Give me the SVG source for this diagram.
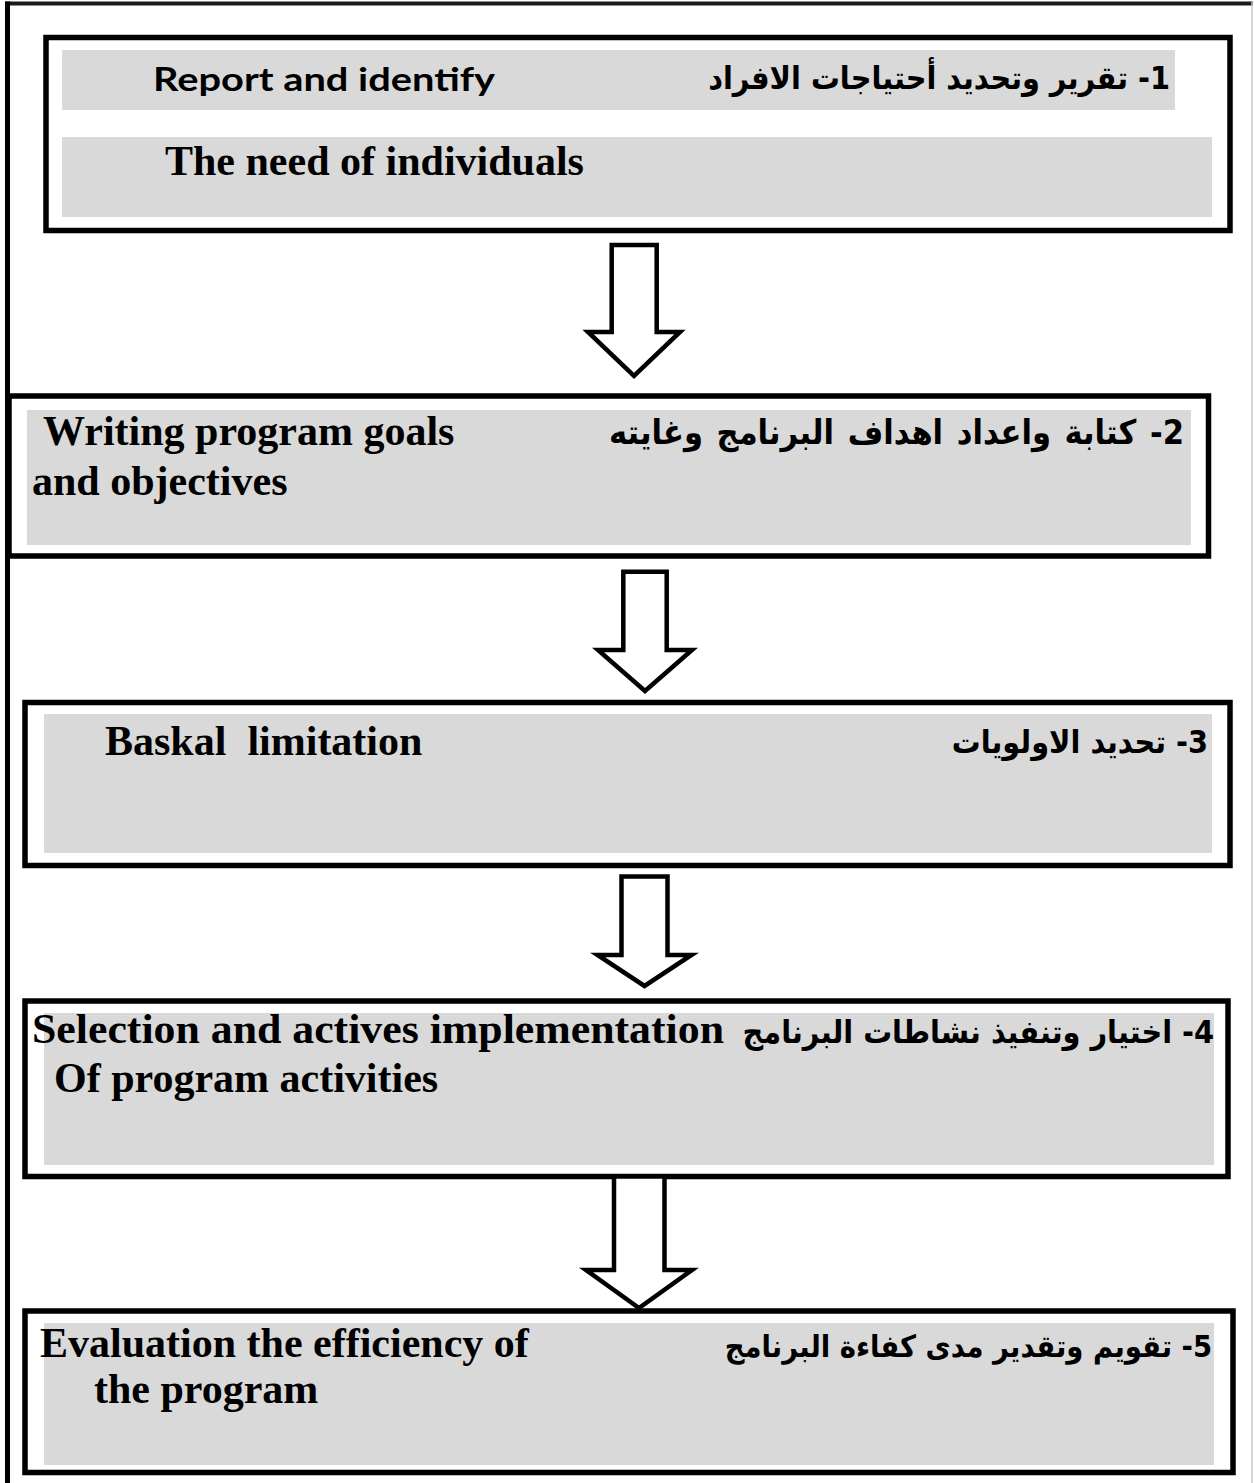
<svg xmlns="http://www.w3.org/2000/svg" width="1254" height="1483" viewBox="0 0 1254 1483">
<style>
.box{fill:#ffffff;stroke:#000;stroke-width:5.5}
.band{fill:#d9d9d9;stroke:none}
.en{font-family:"Liberation Serif","Times New Roman",serif;font-weight:bold;font-size:42px;fill:#000}
.sans{font-family:Lato,"Liberation Sans",sans-serif;font-weight:bold;font-size:33px;fill:#000}
.ar{font-family:"DejaVu Sans Condensed","DejaVu Sans","Noto Sans",sans-serif;font-weight:bold;font-size:32px;fill:#000}
.arrow{fill:#fff;stroke:#000;stroke-width:4.5;stroke-linejoin:miter;stroke-miterlimit:10}
</style>
<rect x="0" y="0" width="1254" height="1483" fill="#fff"/>
<g id="frame">
<line x1="5" y1="3.5" x2="1253" y2="3.5" stroke="#1a1a1a" stroke-width="4"/>
<line x1="7.5" y1="1.5" x2="7.5" y2="1483" stroke="#000" stroke-width="5"/>
<line x1="1252" y1="2" x2="1252" y2="1483" stroke="#c8c8c8" stroke-width="1.5"/>
</g>
<g id="step1">
<rect class="box" x="46" y="37.5" width="1184" height="193"/>
<rect class="band" x="62" y="50" width="1113" height="60"/>
<rect class="band" x="62" y="137" width="1150" height="80"/>
<text class="sans" x="153" y="91" textLength="342" lengthAdjust="spacingAndGlyphs">Report and identify</text>
<text class="ar" x="1170" y="89" direction="rtl" text-anchor="start">1- تقرير وتحديد أحتياجات الافراد</text>
<text class="en" x="165" y="175">The need of individuals</text>
</g>
<g id="step2">
<rect class="box" x="9" y="396" width="1199.5" height="160"/>
<rect class="band" x="27" y="410" width="1164" height="135"/>
<text class="en" x="43" y="445">Writing program goals</text>
<text class="en" x="32" y="495">and objectives</text>
<text class="ar" x="1184" y="444" direction="rtl" text-anchor="start" style="font-size:34px;word-spacing:3px">2- كتابة واعداد اهداف البرنامج وغايته</text>
</g>
<g id="step3">
<rect class="box" x="25" y="702.5" width="1205" height="163"/>
<rect class="band" x="44" y="714" width="1168" height="139"/>
<text class="en" x="105" y="755" xml:space="preserve">Baskal  limitation</text>
<text class="ar" x="1208" y="753" direction="rtl" text-anchor="start">3- تحديد الاولويات</text>
</g>
<g id="step4">
<rect class="box" x="25" y="1001" width="1203" height="175.5"/>
<rect class="band" x="44" y="1013" width="1170" height="152"/>
<text class="en" x="32" y="1043" textLength="692" lengthAdjust="spacingAndGlyphs">Selection and actives implementation</text>
<text class="ar" x="1214" y="1043" direction="rtl" text-anchor="start">4- اختيار وتنفيذ نشاطات البرنامج</text>
<text class="en" x="54" y="1092" xml:space="preserve">Of program activities</text>
</g>
<g id="step5">
<rect class="box" x="25" y="1311" width="1208" height="161.5"/>
<rect class="band" x="44" y="1323" width="1170" height="142"/>
<text class="en" x="40" y="1357">Evaluation the efficiency of</text>
<text class="en" x="94" y="1403">the program</text>
<text class="ar" x="1212" y="1357" direction="rtl" text-anchor="start" style="font-size:30.5px">5- تقويم وتقدير مدى كفاءة البرنامج</text>
</g>
<g id="connectors">
<polygon class="arrow" points="611.7,245 656.7,245 656.7,332 680,332 634,376 588,332 611.7,332"/>
<polygon class="arrow" points="623.3,571.7 666.7,571.7 666.7,650 692,650 645,691 598,650 623.3,650"/>
<polygon class="arrow" points="621.5,876.5 667.5,876.5 667.5,955 691.5,955 644.5,986 597.5,955 621.5,955"/>
<polygon class="arrow" points="614,1176.5 664.5,1176.5 664.5,1270 692,1270 639,1308 586,1270 614,1270"/>
</g>
</svg>
